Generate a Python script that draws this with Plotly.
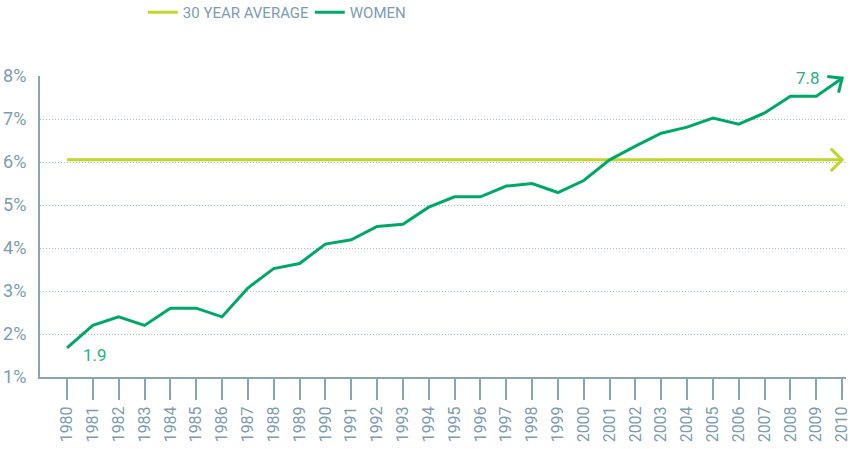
import math
import plotly.graph_objects as go

years = list(range(1980, 2011))
women = [1.68, 2.2, 2.4, 2.2, 2.6, 2.6, 2.4, 3.07, 3.52, 3.64, 4.09, 4.19, 4.5, 4.55, 4.95,
         5.19, 5.19, 5.44, 5.5, 5.29, 5.57, 6.05, 6.37, 6.67, 6.81, 7.02, 6.88, 7.14, 7.53, 7.53, 7.95]
average_value = 6.05
average = [average_value] * len(years)
y_ticks = [1, 2, 3, 4, 5, 6, 7, 8]
y_tick_labels = ["1%", "2%", "3%", "4%", "5%", "6%", "7%", "8%"]
start_label = "1.9"
end_label = "7.8"

AVG_COLOR = "#c3d52b"
WOMEN_COLOR = "#00a868"
LABEL_GREEN = "#27b37a"
AXIS_COLOR = "#86a5b8"
TEXT_COLOR = "#7b9cb2"
GRID_COLOR = "#9fbdd0"
FONT = "Roboto, 'Open Sans', sans-serif"

X_RANGE = [1978.955, 2010.15]
Y_RANGE = [1, 8]
W, H = 850, 449
ML, MR, MT, MB = 40, 4, 76, 72
plot_w = W - ML - MR
plot_h = H - MT - MB
px_per_year = plot_w / (X_RANGE[1] - X_RANGE[0])
px_per_unit = plot_h / (Y_RANGE[1] - Y_RANGE[0])

fig = go.Figure()
fig.add_trace(go.Scatter(x=years, y=average, mode="lines", name="30 YEAR AVERAGE",
                         line=dict(color=AVG_COLOR, width=3), cliponaxis=False))
fig.add_trace(go.Scatter(x=years, y=women, mode="lines", name="WOMEN",
                         line=dict(color=WOMEN_COLOR, width=3), cliponaxis=False))


def to_paper_x(v):
    return (v - X_RANGE[0]) / (X_RANGE[1] - X_RANGE[0])


def to_paper_y(v):
    return (v - Y_RANGE[0]) / (Y_RANGE[1] - Y_RANGE[0])


# open chevron arrowheads (pixel-sized shapes anchored on the last data points)
def chevron(xa, ya, dx, dy, color, arm=14, spread=0.78):
    ang = math.atan2(dy, dx)
    pts = []
    for s in (1, -1):
        a = ang + math.pi - s * spread
        pts.append((arm * math.cos(a), arm * math.sin(a)))
    path = f"M {pts[0][0]:.2f},{pts[0][1]:.2f} L 0,0 L {pts[1][0]:.2f},{pts[1][1]:.2f}"
    fig.add_shape(type="path", xref="paper", yref="paper", xsizemode="pixel", ysizemode="pixel",
                  xanchor=to_paper_x(xa), yanchor=to_paper_y(ya), path=path,
                  line=dict(color=color, width=3), layer="above")


chevron(years[-1], women[-1], px_per_year, (women[-1] - women[-2]) * px_per_unit,
        WOMEN_COLOR, arm=15, spread=0.72)
chevron(years[-1], average[-1], 1, 0, AVG_COLOR, arm=16, spread=0.78)

fig.add_annotation(x=years[1], y=women[0], text=start_label, showarrow=False,
                   xanchor="center", yanchor="middle", yshift=-7, xshift=2,
                   font=dict(family=FONT, size=17, color=LABEL_GREEN))
fig.add_annotation(x=years[-1], y=women[-1], text=end_label, showarrow=False,
                   xanchor="right", yanchor="middle", xshift=-20, yshift=0,
                   font=dict(family=FONT, size=17, color=LABEL_GREEN))

fig.update_layout(
    width=W, height=H,
    margin=dict(l=ML, r=MR, t=MT, b=MB, autoexpand=False),
    plot_bgcolor="white", paper_bgcolor="white",
    showlegend=True,
    legend=dict(orientation="h", x=0.168, xref="container", xanchor="left",
                y=1.266, yref="paper", yanchor="top",
                font=dict(family=FONT, size=15, color=TEXT_COLOR),
                entrywidth=122, entrywidthmode="pixels", itemwidth=30),
    xaxis=dict(range=X_RANGE, tickmode="array", tickvals=years,
               ticktext=[str(y) for y in years], tickangle=-90,
               ticks="outside", ticklen=21, tickwidth=1.5, tickcolor=AXIS_COLOR,
               showline=True, linecolor=AXIS_COLOR, linewidth=2,
               showgrid=False, zeroline=False, automargin=False,
               ticklabeloverflow="allow",
               tickfont=dict(family=FONT, size=16, color=TEXT_COLOR)),
    yaxis=dict(range=Y_RANGE, tickmode="array", tickvals=y_ticks, ticktext=y_tick_labels,
               showline=True, linecolor=AXIS_COLOR, linewidth=2,
               showgrid=True, gridcolor=GRID_COLOR, griddash="1px,2px", gridwidth=1,
               zeroline=False, ticks="", ticklabelstandoff=8, automargin=False,
               ticklabeloverflow="allow",
               tickfont=dict(family=FONT, size=18, color=TEXT_COLOR)),
)

fig.write_html("out.html", config={"displayModeBar": False},
               post_script="document.body.style.margin='0';")
